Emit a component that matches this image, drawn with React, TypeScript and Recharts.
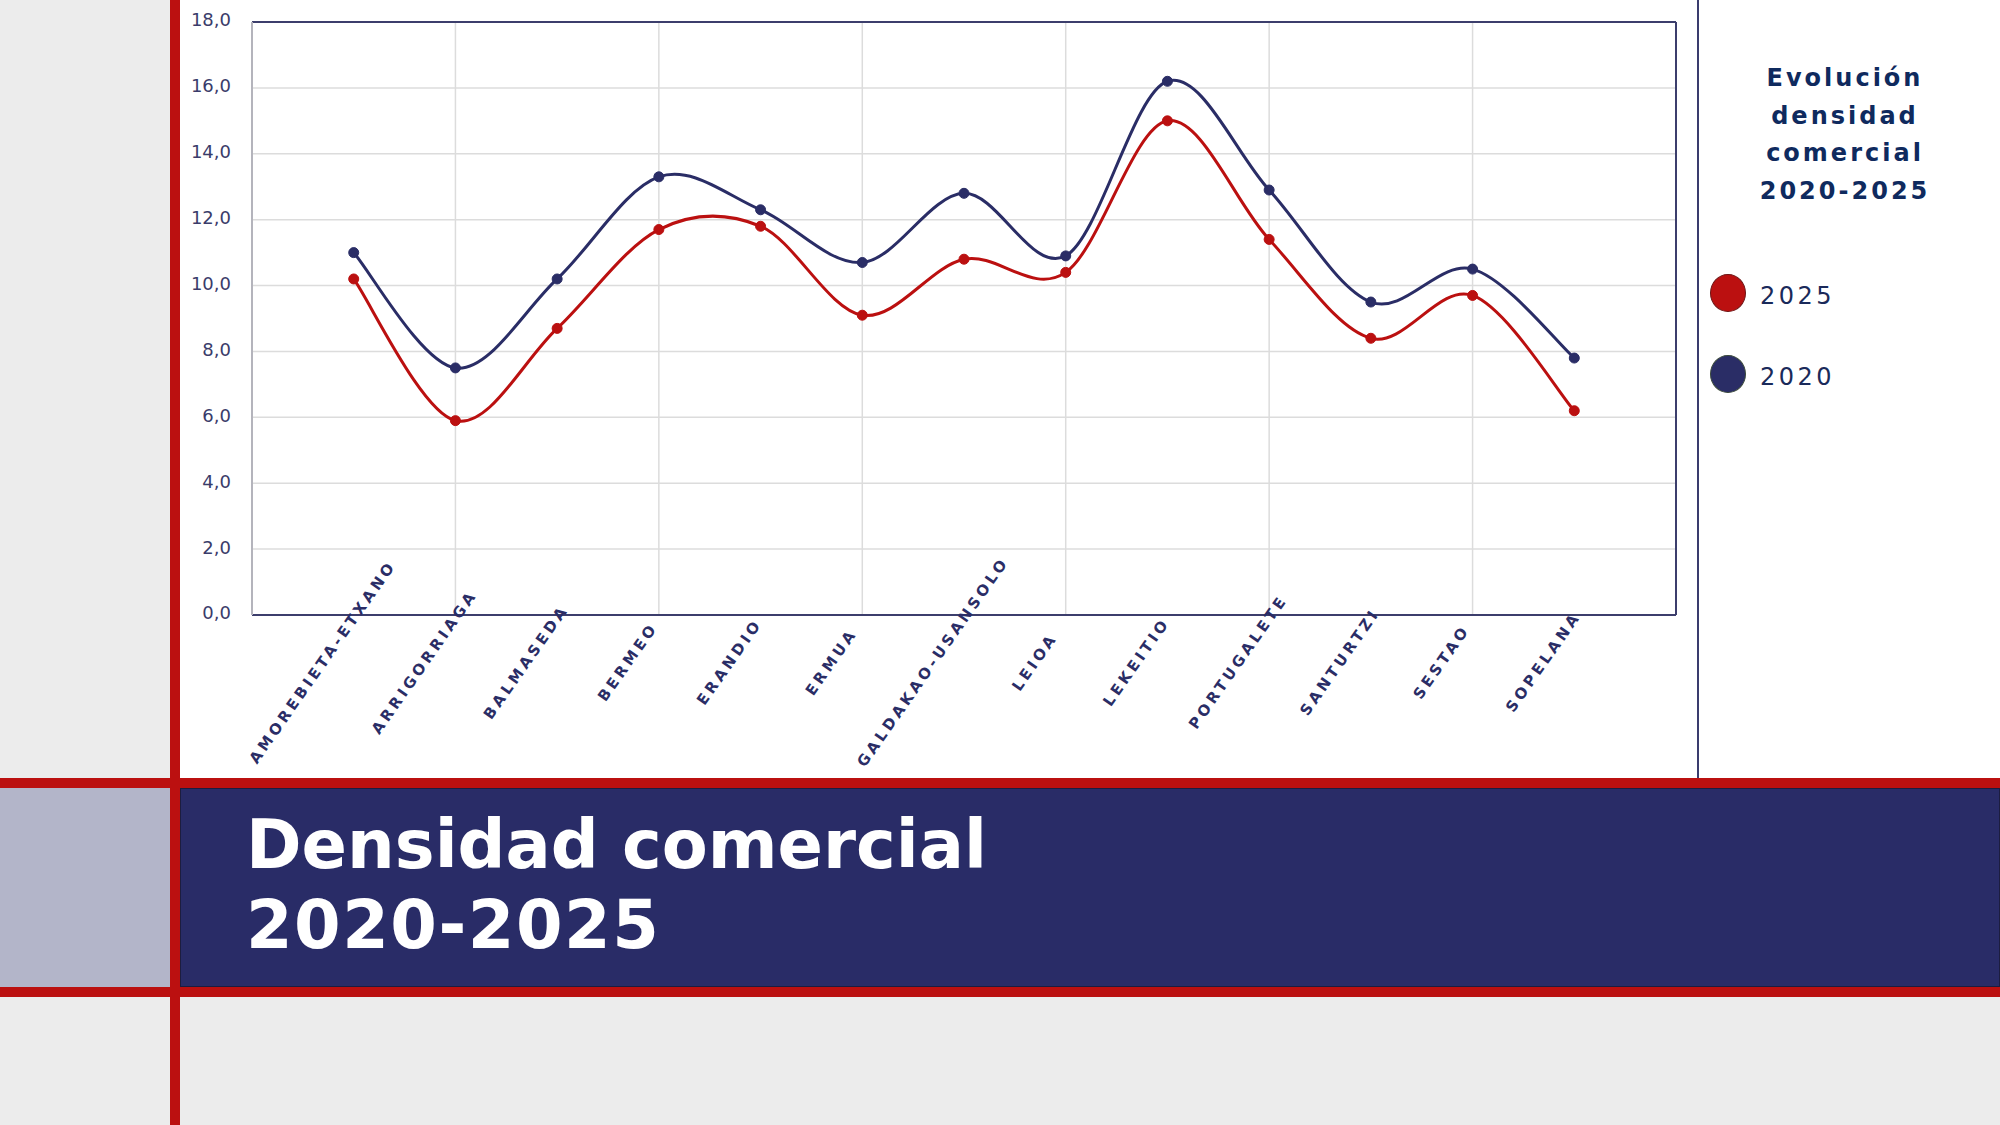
import React from 'react';
import { LineChart, Line, XAxis, YAxis, CartesianGrid, ReferenceLine } from 'recharts';

const municipios = [
  'AMOREBIETA-ETXANO', 'ARRIGORRIAGA', 'BALMASEDA', 'BERMEO', 'ERANDIO', 'ERMUA',
  'GALDAKAO-USANSOLO', 'LEIOA', 'LEKEITIO', 'PORTUGALETE', 'SANTURTZI', 'SESTAO', 'SOPELANA',
];
const densidad2025 = [10.2, 5.9, 8.7, 11.7, 11.8, 9.1, 10.8, 10.4, 15.0, 11.4, 8.4, 9.7, 6.2];
const densidad2020 = [11.0, 7.5, 10.2, 13.3, 12.3, 10.7, 12.8, 10.9, 16.2, 12.9, 9.5, 10.5, 7.8];
const yTicks = [0, 2, 4, 6, 8, 10, 12, 14, 16, 18];
const gridX = [2, 4, 6, 8, 10, 12];

const RED = '#bb1010';
const NAVY = '#2a2d66';
const FONT = '"DejaVu Sans", Verdana, sans-serif';

const series = [
  { key: 'v2025', name: '2025', color: RED, border: '#6e1515' },
  { key: 'v2020', name: '2020', color: NAVY, border: '#3b4a3b' },
];

const data = municipios.map((name, i) => ({
  pos: i + 1,
  name,
  v2025: densidad2025[i],
  v2020: densidad2020[i],
}));

// Excel-like smoothing (Catmull-Rom as cubic Bezier)
const smoothCurve = (context: any) => {
  let pts: number[][] = [];
  return {
    areaStart() {},
    areaEnd() {},
    lineStart() {
      pts = [];
    },
    point(x: number, y: number) {
      pts.push([+x, +y]);
    },
    lineEnd() {
      const n = pts.length;
      if (!n) return;
      context.moveTo(pts[0][0], pts[0][1]);
      for (let i = 0; i < n - 1; i++) {
        const p0 = pts[Math.max(i - 1, 0)];
        const p1 = pts[i];
        const p2 = pts[i + 1];
        const p3 = pts[Math.min(i + 2, n - 1)];
        context.bezierCurveTo(
          p1[0] + (p2[0] - p0[0]) / 6,
          p1[1] + (p2[1] - p0[1]) / 6,
          p2[0] - (p3[0] - p1[0]) / 6,
          p2[1] - (p3[1] - p1[1]) / 6,
          p2[0],
          p2[1],
        );
      }
    },
  };
};

const CategoryTick = (props: any) => {
  const { x, y, payload } = props;
  const label = municipios[payload.value - 1];
  if (!label) return null;
  const cx = x - 31;
  const cy = y + 47;
  return (
    <text
      x={cx}
      y={cy}
      textAnchor="middle"
      dominantBaseline="central"
      transform={`rotate(-55, ${cx}, ${cy})`}
      fill={NAVY}
      fontFamily={FONT}
      fontWeight="bold"
      fontSize={15}
      letterSpacing={3.5}
    >
      {label}
    </text>
  );
};

const App: React.FC = () => {
  return (
    <div style={{ position: 'absolute', left: 0, top: 0, width: 2000, height: 1125, background: '#fff', overflow: 'hidden', fontFamily: FONT }}>
      {/* page frame */}
      <div style={{ position: 'absolute', left: 0, top: 0, width: 170, height: 778, background: '#ececec' }} />
      <div style={{ position: 'absolute', left: 0, top: 997, width: 2000, height: 128, background: '#ececec' }} />
      <div style={{ position: 'absolute', left: 0, top: 788, width: 170, height: 199, background: '#b3b5c9' }} />
      <div style={{ position: 'absolute', left: 180, top: 788, width: 1820, height: 199, background: '#292c67', boxSizing: 'border-box', border: '1px solid #1c1d40' }} />
      <div style={{ position: 'absolute', left: 0, top: 778, width: 2000, height: 10, background: RED }} />
      <div style={{ position: 'absolute', left: 0, top: 987, width: 2000, height: 10, background: RED }} />
      <div style={{ position: 'absolute', left: 170, top: 0, width: 10, height: 1125, background: RED }} />
      <div style={{ position: 'absolute', left: 1697, top: 0, width: 2, height: 778, background: '#3a3c6e' }} />

      <div style={{ position: 'absolute', left: 246, top: 805, color: '#fff', fontWeight: 'bold', fontSize: 67, lineHeight: '80px', whiteSpace: 'nowrap' }}>
        Densidad comercial
        <br />
        <span style={{ letterSpacing: 1.5 }}>2020-2025</span>
      </div>

      {/* legend */}
      <div style={{ position: 'absolute', left: 1700, top: 60, width: 290, textAlign: 'center', color: '#0f2a5e', fontWeight: 'bold', fontSize: 24, lineHeight: '37.5px', letterSpacing: 3 }}>
        Evolución<br />densidad<br />comercial<br />2020-2025
      </div>
      {series.map((s, i) => (
        <div key={s.key} style={{ position: 'absolute', left: 1710, top: 274 + i * 81, height: 38, display: 'flex', alignItems: 'center' }}>
          <div style={{ width: 36, height: 38, borderRadius: '50%', background: s.color, border: `1px solid ${s.border}`, boxSizing: 'border-box' }} />
          <span style={{ marginLeft: 14, marginTop: 6, fontSize: 24, letterSpacing: 3.5, color: '#1a2a5a' }}>{s.name}</span>
        </div>
      ))}

      <div style={{ position: 'absolute', left: 0, top: 0 }}>
        <LineChart width={1700} height={778} data={data} margin={{ top: 22, right: 24, left: 152, bottom: 63 }}>
          <CartesianGrid stroke="#dcdcdc" strokeWidth={1.5} verticalValues={gridX} />
          <XAxis
            dataKey="pos"
            type="number"
            domain={[0, 14]}
            ticks={data.map((d) => d.pos)}
            interval={0}
            height={100}
            tickSize={0}
            tickMargin={0}
            tickLine={false}
            axisLine={{ stroke: '#3c3e6c', strokeWidth: 2 }}
            tick={<CategoryTick />}
          />
          <YAxis
            domain={[0, 18]}
            ticks={yTicks}
            width={100}
            tickLine={false}
            tickMargin={15}
            axisLine={{ stroke: '#b4b4bc', strokeWidth: 2 }}
            tick={{ fill: '#3a3c6a', fontSize: 18, fontFamily: FONT, dy: -2 }}
            tickFormatter={(v: number) => v.toFixed(1).replace('.', ',')}
          />
          <ReferenceLine y={18} stroke="#3c3e6c" strokeWidth={2} />
          <ReferenceLine x={14} stroke="#3c3e6c" strokeWidth={2} />
          {[...series].reverse().map((s) => (
            <Line
              key={s.key}
              dataKey={s.key}
              name={s.name}
              type={smoothCurve as any}
              stroke={s.color}
              strokeWidth={3}
              dot={{ r: 5, fill: s.color, stroke: s.color, strokeWidth: 1 }}
              activeDot={false}
              isAnimationActive={false}
            />
          ))}
        </LineChart>
      </div>
    </div>
  );
};

export default App;
